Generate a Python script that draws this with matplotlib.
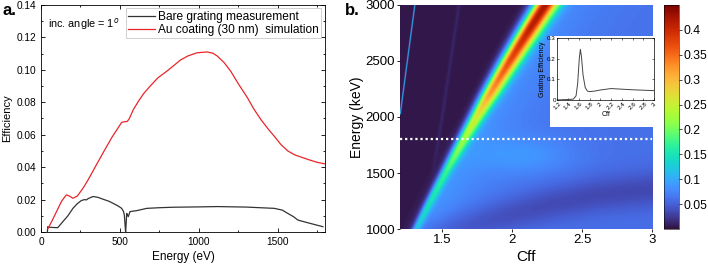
import numpy as np
import matplotlib.pyplot as plt
from matplotlib.patches import Rectangle
from matplotlib.ticker import MultipleLocator

plt.rcParams['font.family'] = ['Liberation Sans', 'DejaVu Sans']

# panel a: efficiency vs energy
red_E = [43, 70, 100, 130, 160, 180, 202, 230, 260, 277, 300, 350, 400, 450, 511, 530,
         547, 560, 585, 620, 650, 691, 740, 798, 840, 883, 930, 989, 1053, 1090, 1117,
         1160, 1202, 1250, 1309, 1350, 1394, 1440, 1479, 1520, 1564, 1610, 1649, 1700,
         1750, 1800]
red_eff = [0.002, 0.007, 0.013, 0.019, 0.0229, 0.0222, 0.0208, 0.0222, 0.0262, 0.0287,
           0.0325, 0.0413, 0.0500, 0.0585, 0.0676, 0.0680, 0.0682, 0.0700, 0.0755, 0.0810,
           0.0853, 0.0899, 0.0950, 0.0992, 0.1025, 0.1060, 0.1085, 0.1105, 0.1110, 0.1102,
           0.1085, 0.1045, 0.0992, 0.0915, 0.0827, 0.0757, 0.0693, 0.0635, 0.0590, 0.0540,
           0.0500, 0.0475, 0.0462, 0.0445, 0.0430, 0.0420]

blk_E = [40, 42, 45, 50, 80, 106, 138, 170, 202, 230, 255, 275, 287, 300, 330, 360, 394,
         430, 457, 490, 511, 522, 528, 532, 536, 540, 543, 548, 553, 564, 606, 670, 750,
         840, 1000, 1117, 1300, 1479, 1530, 1564, 1600, 1628, 1700, 1787]
blk_eff = [0.000, 0.0033, 0.003, 0.003, 0.0028, 0.0027, 0.0064, 0.010, 0.0146, 0.0175,
           0.0194, 0.020, 0.0198, 0.0207, 0.0219, 0.0214, 0.0202, 0.019, 0.0177, 0.016,
           0.0146, 0.0128, 0.0105, 0.005, 0.000, 0.006, 0.0115, 0.0105, 0.0095, 0.0126,
           0.0132, 0.0146, 0.0150, 0.0153, 0.0155, 0.0157, 0.0154, 0.0146, 0.0135, 0.0115,
           0.0095, 0.0074, 0.0055, 0.0033]

# panel b: ridge of the efficiency map (Energy axis, Cff)
ridge_E = [1000, 1214, 1512, 1795, 2107, 2500, 3000]
ridge_cff = [1.32, 1.40, 1.51, 1.64, 1.795, 1.99, 2.22]
peak_E = [1000, 1500, 1800, 2000, 2200, 2500, 2800, 3000]
ridge_peak = [0.08, 0.12, 0.17, 0.21, 0.27, 0.32, 0.36, 0.37]
ridge_width = [0.026, 0.034, 0.042, 0.048, 0.055, 0.063, 0.07, 0.075]
faint_E = [1400, 2000, 3000]
faint_cff = [1.42, 1.50, 1.62]
dip_cff = [1.2, 1.55, 1.9, 2.27, 2.6, 3.0]
dip_E = [850, 980, 1100, 1220, 1300, 1350]
steep_E = [2020, 3000]
steep_cff = [1.20, 1.305]

# inset: efficiency along E = 1800
ins_cff = [1.2, 1.4, 1.5, 1.55, 1.58, 1.61, 1.63, 1.65, 1.68, 1.72, 1.76, 1.8, 1.9, 2.0,
           2.2, 2.4, 2.6, 2.8, 3.0]
ins_eff = [0.0, 0.002, 0.004, 0.02, 0.08, 0.20, 0.245, 0.21, 0.12, 0.06, 0.043, 0.040,
           0.043, 0.048, 0.055, 0.052, 0.049, 0.047, 0.045]

fig = plt.figure(figsize=(7.08, 2.73), dpi=100)

# ---- panel a
ax = fig.add_axes([0.058, 0.150, 0.401, 0.832])
ax.plot(blk_E, blk_eff, color='#333333', lw=0.9, label='Bare grating measurement')
ax.plot(red_E, red_eff, color='#e8262a', lw=0.9, label='Au coating (30 nm)  simulation')
ax.set_xlim(0, 1800)
ax.set_ylim(0, 0.14)
ax.xaxis.set_major_locator(MultipleLocator(500))
ax.xaxis.set_minor_locator(MultipleLocator(250))
ax.yaxis.set_major_locator(MultipleLocator(0.02))
ax.yaxis.set_minor_locator(MultipleLocator(0.01))
ax.yaxis.set_major_formatter(plt.FormatStrFormatter('%.2f'))
ax.tick_params(which='both', direction='in', top=True, right=True, labelsize=7.3,
               width=0.6)
ax.tick_params(which='major', length=3)
ax.tick_params(which='minor', length=1.5)
for s in ax.spines.values():
    s.set_linewidth(0.6)
ax.set_xlabel('Energy (eV)', fontsize=8.5, labelpad=3)
ax.set_ylabel('Efficiency', fontsize=8, labelpad=3)
leg = ax.legend(loc='upper right', fontsize=8.6, frameon=True, fancybox=False,
                edgecolor='#bbbbbb', handlelength=2.2, handletextpad=0.3,
                borderpad=0.2, labelspacing=0.1, borderaxespad=0.3)
leg.get_frame().set_linewidth(0.6)
ax.text(0.025, 0.915, 'inc. angle = 1$^o$', transform=ax.transAxes, fontsize=7.8,
        va='center')
fig.text(0.003, 0.99, 'a.', fontsize=12, fontweight='bold', va='top')

# ---- panel b
cff = np.linspace(1.2, 3.0, 600)
E = np.linspace(1000, 3000, 500)
C, EE = np.meshgrid(cff, E)
fit = np.polyfit(ridge_E, ridge_cff, 2)
rc = np.polyval(fit, EE)
rp = np.interp(EE, peak_E, ridge_peak)
rw = np.interp(EE, peak_E, ridge_width)
d = C - rc
side = 1 / (1 + np.exp(-d / 0.025))
rw2 = np.where(d > 0, rw * 1.3, rw)
Z = rp * np.exp(-(d / rw2) ** 2)
halo = 0.035 * np.exp(-np.clip(d, 0, None) / 0.3) * side
edip = np.interp(C, dip_cff, dip_E)
bg = (0.056 - 0.026 * np.exp(-((EE - edip) / 170) ** 2)) * side
glow = 0.022 * np.exp(-((C - 2.1) / 0.35) ** 2 - ((EE - 1650) / 170) ** 2)
Z += bg + halo + glow + 0.004
fc = np.interp(EE, faint_E, faint_cff)
Z += 0.008 * np.exp(-((C - fc) / 0.012) ** 2) * np.clip((EE - 1400) / 400, 0, 1)
sc = np.interp(EE, steep_E, steep_cff)
Z += 0.13 * np.exp(-((C - sc) / 0.0035) ** 2) * (EE > 2020)

bx = fig.add_axes([0.565, 0.161, 0.356, 0.821])
im = bx.imshow(Z, origin='lower', extent=[1.2, 3.0, 1000, 3000], aspect='auto',
               cmap='turbo', vmin=0, vmax=0.45, interpolation='bilinear')
bx.axhline(1800, color='white', ls=(0, (1.0, 1.3)), lw=1.6)
bx.set_xlim(1.2, 3.0)
bx.set_ylim(1000, 3000)
bx.set_xticks([1.5, 2, 2.5, 3])
bx.set_xticklabels(['1.5', '2', '2.5', '3'])
bx.set_yticks([1000, 1500, 2000, 2500, 3000])
bx.tick_params(direction='out', length=2, labelsize=9.5, width=0.6, pad=1.5)
for s in bx.spines.values():
    s.set_visible(False)
bx.set_xlabel('Cff', fontsize=11, labelpad=3)
bx.set_ylabel('Energy (keV)', fontsize=10, labelpad=1)
bx.add_patch(Rectangle((0.595, 0.455), 0.41, 0.407, transform=bx.transAxes,
                       facecolor='white', edgecolor='none', zorder=3, clip_on=False))
fig.text(0.487, 0.99, 'b.', fontsize=12, fontweight='bold', va='top')

cax = fig.add_axes([0.938, 0.161, 0.021, 0.821])
cb = fig.colorbar(im, cax=cax)
cb.set_ticks([0.05, 0.1, 0.15, 0.2, 0.25, 0.3, 0.35, 0.4])
cb.set_ticklabels(['0.05', '0.1', '0.15', '0.2', '0.25', '0.3', '0.35', '0.4'])
cb.ax.tick_params(labelsize=8.8, length=2, width=0.5, pad=1.5)
cb.outline.set_linewidth(0.4)

# inset
ix = fig.add_axes([0.787, 0.634, 0.137, 0.227], zorder=5)
ix.plot(ins_cff, ins_eff, color='#444444', lw=0.7)
ix.set_xlim(1.2, 3.0)
ix.set_ylim(0, 0.3)
ix.set_xticks(np.arange(1.2, 3.01, 0.2))
ix.set_xticklabels(['1.2', '1.4', '1.6', '1.8', '2', '2.2', '2.4', '2.6', '2.8', '3'],
                   rotation=45)
ix.set_yticks([0, 0.1, 0.2, 0.3])
ix.set_yticklabels(['0', '0.1', '0.2', '0.3'])
ix.tick_params(direction='in', length=1.5, width=0.4, labelsize=4.5, pad=1,
               top=True, right=True)
for s in ix.spines.values():
    s.set_linewidth(0.5)
ix.set_xlabel('Cff', fontsize=5, labelpad=0)
ix.set_ylabel('Grating Efficiency', fontsize=5, labelpad=1)

fig.savefig('out.png', dpi=100)
